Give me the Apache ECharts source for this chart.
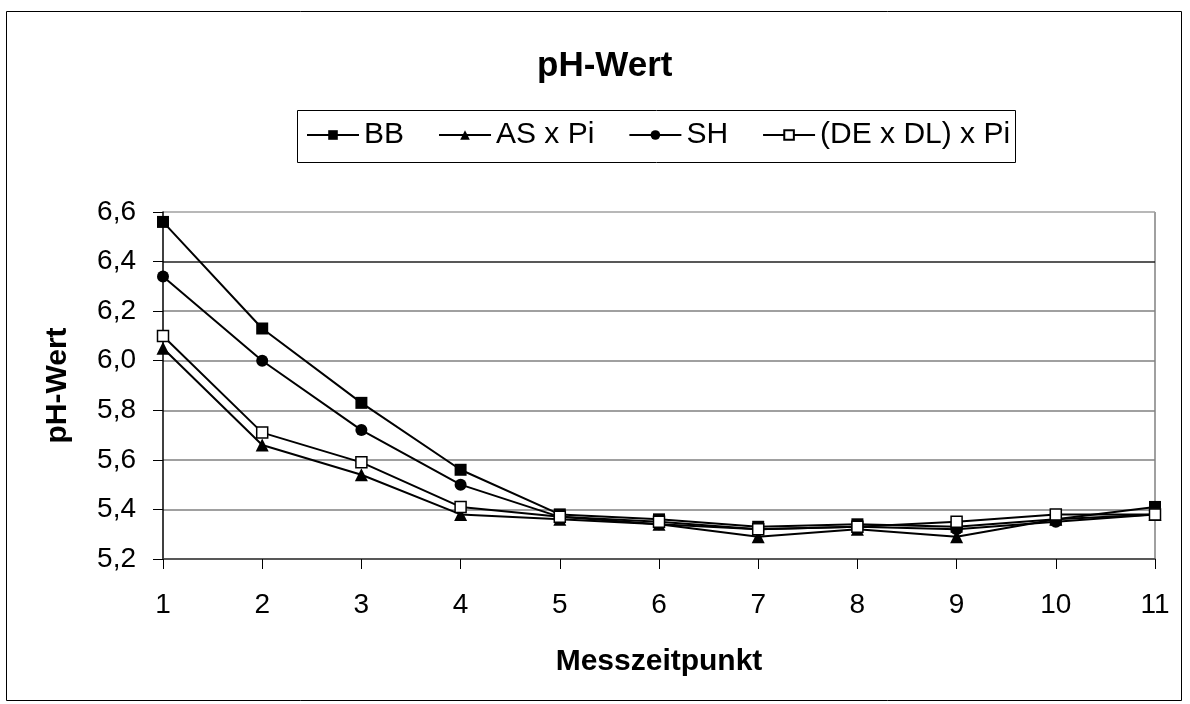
<!DOCTYPE html>
<html>
<head>
<meta charset="utf-8">
<script src="https://cdn.jsdelivr.net/npm/echarts@6/dist/echarts.min.js"></script>
<style>
  html, body { margin: 0; padding: 0; background: #fff; }
  #main { width: 1190px; height: 704px; }
</style>
</head>
<body>
<div id="main"></div>
<script>
// Messzeitpunkte
var zeitpunkte = ["1", "2", "3", "4", "5", "6", "7", "8", "9", "10", "11"];
// pH-Werte je Variante
var bb   = [6.56, 6.13, 5.83, 5.56, 5.38, 5.36, 5.33, 5.34, 5.33, 5.36, 5.41];
var asPi = [6.05, 5.66, 5.54, 5.38, 5.36, 5.34, 5.29, 5.32, 5.29, 5.36, 5.38];
var sh   = [6.34, 6.00, 5.72, 5.50, 5.37, 5.34, 5.32, 5.33, 5.32, 5.35, 5.38];
var dedl = [6.10, 5.71, 5.59, 5.41, 5.37, 5.35, 5.32, 5.33, 5.35, 5.38, 5.38];

var font = "Liberation Sans, Arial, sans-serif";

var myChart = echarts.init(document.getElementById("main"));

function linie(name, data, symbol, size, fill) {
  return {
    name: name,
    type: "line",
    data: data,
    symbol: symbol,
    symbolSize: size,
    showAllSymbol: true,
    lineStyle: { color: "#000", width: 2 },
    itemStyle: { color: fill, borderColor: "#000", borderWidth: fill === "#fff" ? 1.5 : 0 },
    emphasis: { disabled: true },
  };
}

myChart.setOption({
  animation: false,
  backgroundColor: "#fff",
  textStyle: { fontFamily: font },
  title: {
    text: "pH-Wert",
    left: 532,
    top: 44,
    textStyle: { fontSize: 35, fontWeight: "bold", color: "#000", fontFamily: font },
  },
  legend: {
    left: 306,
    top: 120,
    itemWidth: 52,
    itemHeight: 12,
    itemGap: 34,
    padding: 0,
    textStyle: { fontSize: 30, color: "#000", fontFamily: font },
    data: ["BB", "AS x Pi", "SH", "(DE x DL) x Pi"],
  },
  grid: { left: 163, right: 35, top: 212, bottom: 145, containLabel: false },
  xAxis: {
    type: "category",
    data: zeitpunkte,
    boundaryGap: false,
    name: "Messzeitpunkt",
    nameLocation: "middle",
    nameGap: 88,
    nameTextStyle: { fontSize: 30, fontWeight: "bold", color: "#000", fontFamily: font },
    axisLine: { lineStyle: { color: "#404040", width: 1.5 } },
    axisTick: { show: true, inside: false, length: 10, alignWithLabel: true, lineStyle: { color: "#000" } },
    axisLabel: { fontSize: 28, color: "#000", margin: 32, fontFamily: font },
    splitLine: { show: false },
  },
  yAxis: {
    type: "value",
    min: 5.2,
    max: 6.6,
    interval: 0.2,
    name: "pH-Wert",
    nameLocation: "middle",
    nameGap: 90,
    nameRotate: 90,
    nameTextStyle: { fontSize: 30, fontWeight: "bold", color: "#000", fontFamily: font },
    axisLine: { show: true, lineStyle: { color: "#000", width: 1.5 } },
    axisTick: { show: true, inside: false, length: 10, lineStyle: { color: "#000" } },
    axisLabel: {
      fontSize: 28,
      color: "#000",
      margin: 27,
      fontFamily: font,
      formatter: function (v) { return v.toFixed(1).replace(".", ","); },
    },
    splitLine: {
      show: true,
      lineStyle: {
        color: ["#808080", "#808080", "#808080", "#808080", "#808080", "#808080", "#202020", "#a0a0a0"],
        width: 1.5,
      },
    },
  },
  graphic: [
    {
      type: "rect",
      shape: { x: 6.5, y: 11.5, width: 1175, height: 689 },
      style: { fill: null, stroke: "#000", lineWidth: 1 },
      silent: true,
    },
    {
      type: "rect",
      shape: { x: 297.5, y: 110.5, width: 718, height: 52 },
      style: { fill: null, stroke: "#000", lineWidth: 1 },
      silent: true,
    },
    {
      type: "line",
      shape: { x1: 1155, y1: 212, x2: 1155, y2: 559 },
      style: { stroke: "#808080", lineWidth: 1.5 },
      silent: true,
    },
  ],
  series: [
    linie("BB", bb, "rect", 12, "#000"),
    linie("AS x Pi", asPi, "triangle", 13, "#000"),
    linie("SH", sh, "circle", 12, "#000"),
    linie("(DE x DL) x Pi", dedl, "rect", 11, "#fff"),
  ],
});
</script>
</body>
</html>
